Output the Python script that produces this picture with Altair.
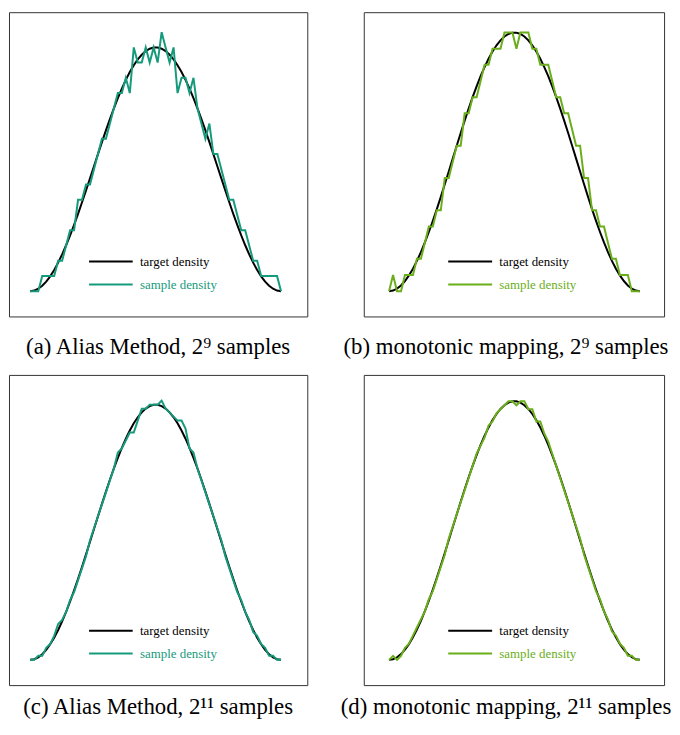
import altair as alt
import pandas as pd

# ---- data (64 bins, x = bin index / 63) ----
bin_index = list(range(64))

# normalised target density (peak = 1), symmetric bump
target_shape = [
    0.0000, 0.0025, 0.0099, 0.0222, 0.0393, 0.0609, 0.0869, 0.1170,
    0.1509, 0.1883, 0.2287, 0.2719, 0.3173, 0.3646, 0.4132, 0.4626,
    0.5125, 0.5622, 0.6113, 0.6593, 0.7057, 0.7500, 0.7918, 0.8310,
    0.8665, 0.8986, 0.9268, 0.9505, 0.9698, 0.9846, 0.9944, 0.9994,
    0.9994, 0.9944, 0.9846, 0.9698, 0.9505, 0.9268, 0.8986, 0.8665,
    0.8310, 0.7918, 0.7500, 0.7057, 0.6593, 0.6113, 0.5622, 0.5125,
    0.4626, 0.4132, 0.3646, 0.3173, 0.2719, 0.2287, 0.1883, 0.1509,
    0.1170, 0.0869, 0.0609, 0.0393, 0.0222, 0.0099, 0.0025, 0.0000,
]

# sample counts per bin
counts_a = [0, 0, 0, 1, 1, 1, 1, 2, 2, 3, 4, 4, 6, 6, 7, 7,
            8, 9, 10, 10, 11, 12, 13, 13, 14, 13, 16, 15, 15, 16, 15, 16,
            15, 17, 16, 15, 16, 13, 14, 14, 13, 14, 12, 11, 10, 11, 9, 9,
            8, 7, 6, 6, 5, 4, 4, 3, 2, 2, 1, 1, 1, 1, 1, 0]
counts_b = [0, 1, 0, 0, 1, 1, 1, 2, 2, 3, 4, 4, 5, 5, 7, 7,
            8, 9, 9, 11, 11, 12, 12, 13, 14, 14, 15, 15, 15, 16, 16, 16,
            15, 16, 16, 16, 15, 15, 14, 14, 14, 13, 12, 12, 11, 11, 10, 9,
            9, 7, 7, 5, 5, 4, 4, 3, 2, 2, 1, 1, 1, 0, 0, 0]
counts_c = [0, 0, 1, 1, 3, 4, 6, 9, 10, 12, 15, 17, 20, 23, 26, 30,
            33, 36, 39, 42, 45, 48, 52, 53, 55, 57, 57, 60, 63, 63, 64, 64,
            64, 65, 63, 62, 61, 60, 60, 58, 53, 52, 48, 45, 42, 39, 36, 33,
            30, 26, 23, 20, 17, 15, 12, 10, 7, 6, 4, 3, 1, 1, 0, 0]
counts_d = [0, 1, 0, 1, 3, 4, 6, 8, 10, 12, 15, 17, 20, 23, 26, 30,
            33, 36, 39, 42, 45, 48, 51, 53, 55, 58, 59, 61, 62, 63, 64, 64,
            63, 64, 64, 62, 62, 59, 59, 56, 54, 51, 48, 45, 42, 39, 36, 33,
            30, 26, 23, 20, 17, 15, 12, 10, 7, 6, 4, 3, 1, 1, 0, 0]

target_peaks = [16, 16, 64, 64]
captions = [
    "(a) Alias Method, 2\u2079 samples",
    "(b) monotonic mapping, 2\u2079 samples",
    "(c) Alias Method, 2\u00b9\u00b9 samples",
    "(d) monotonic mapping, 2\u00b9\u00b9 samples",
]
legend_labels = ["target density", "sample density"]

TEAL = "#169a7c"
LIME = "#6aae1a"
SERIF = "Liberation Serif"


def panel(counts, peak, color, caption, w, h, xdom, ydom, lx, ly, cap_offset, cap_dx):
    df = pd.DataFrame({
        "x": [i / 63 for i in bin_index],
        "target": [s * peak for s in target_shape],
        "sample": counts,
    })
    xs = alt.Scale(domain=xdom, nice=False, zero=False)
    ys = alt.Scale(domain=ydom, nice=False, zero=False)
    base = alt.Chart(df)
    target = base.mark_line(color="black", strokeWidth=2).encode(
        x=alt.X("x:Q", scale=xs, axis=None),
        y=alt.Y("target:Q", scale=ys, axis=None),
    )
    sample = base.mark_line(color=color, strokeWidth=2).encode(
        x=alt.X("x:Q", scale=xs, axis=None),
        y=alt.Y("sample:Q", scale=ys, axis=None),
    )
    one = pd.DataFrame({"k": [0]})
    layers = [target, sample]
    for j, (lab, col) in enumerate(zip(legend_labels, ["black", color])):
        layers.append(
            alt.Chart(one).mark_rule(strokeWidth=2, color=col).encode(
                x=alt.value(lx[0]), x2=alt.value(lx[1]), y=alt.value(ly[j])
            )
        )
        layers.append(
            alt.Chart(one).mark_text(
                font=SERIF, fontSize=13, align="left", baseline="middle",
                color=col, text=lab
            ).encode(x=alt.value(lx[2]), y=alt.value(ly[j] + 0.5))
        )
    return alt.layer(*layers).properties(
        width=w, height=h,
        title=alt.TitleParams(
            text=caption, orient="bottom", anchor="middle", font=SERIF,
            fontSize=23, fontWeight="normal", color="black",
            baseline="alphabetic", offset=cap_offset, dx=cap_dx,
        ),
    )


pa = panel(counts_a, target_peaks[0], TEAL, captions[0], 301, 307,
           [-0.08498, 1.10474], [-1.6585, 18.309], (80.8, 124.8, 132.2), (251.5, 274.8), 38, 0)
pb = panel(counts_b, target_peaks[1], LIME, captions[1], 303, 307,
           [-0.10079, 1.09684], [-1.5632, 17.257], (85.2, 129.5, 136.8), (251.5, 274.8), 38, -8)
pc = panel(counts_c, target_peaks[2], TEAL, captions[2], 301, 313,
           [-0.08498, 1.10474], [-6.338, 71.457], (80.8, 124.8, 132.2), (258.2, 281.2), 29, 0)
pd_ = panel(counts_d, target_peaks[3], LIME, captions[3], 303, 313,
            [-0.10079, 1.09684], [-6.253, 70.50], (85.2, 129.5, 136.8), (258.2, 281.2), 29, -8)

chart = alt.concat(
    pa, pb, pc, pd_, columns=2, bounds="flush",
    spacing={"row": 59, "column": 57},
).properties(
    padding={"left": 0, "top": 0, "right": 0, "bottom": 0}
).configure_view(stroke="#333333", strokeWidth=1)

chart.save("out.html", embed_options={"renderer": "svg", "actions": False})
